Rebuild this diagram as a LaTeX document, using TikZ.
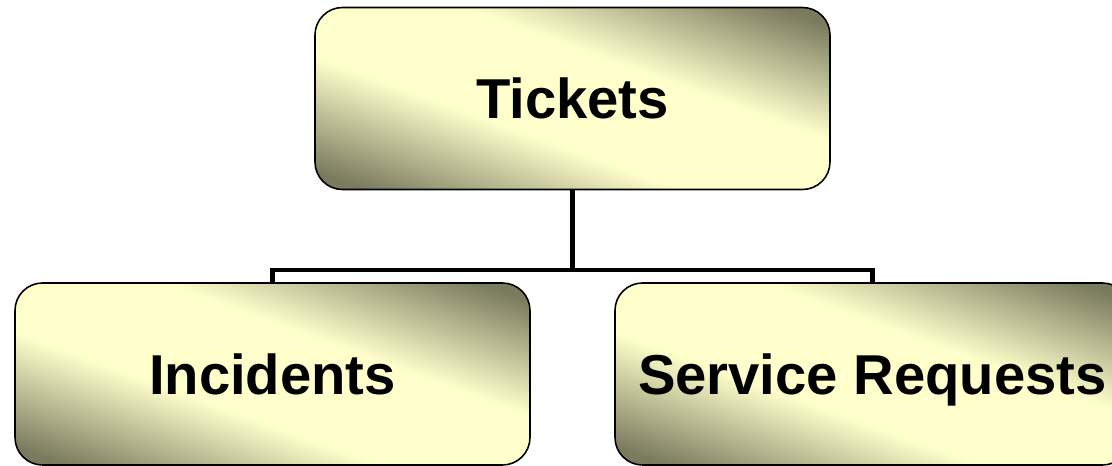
\documentclass[tikz,border=0pt]{standalone}
\usepackage{fontspec}
\setmainfont{Liberation Sans}
\usepackage{tikz}
\usetikzlibrary{shadings}

\definecolor{olivedark}{RGB}{122,122,94}
\definecolor{paleyellow}{RGB}{255,255,204}
\pgfdeclareverticalshading{boxshade}{100bp}{color(0bp)=(olivedark); color(21bp)=(olivedark); color(41bp)=(paleyellow); color(59bp)=(paleyellow); color(79bp)=(olivedark); color(100bp)=(olivedark)}

\begin{document}
\begin{tikzpicture}[
    box/.style={draw=black, line width=0.9pt, rounded corners=0.55cm, shading=boxshade, shading angle=-20,
        minimum width=10.3cm, minimum height=3.64cm, inner sep=0pt,
        text height=0.81cm, text depth=0cm,
        font=\fontsize{32}{38}\selectfont\bfseries},
    link/.style={line width=2.8pt, black}]

    % Page frame, the right box runs off the edge
    \useasboundingbox (0,0) rectangle (22.24,-9.32);
    \clip (0,0) rectangle (22.24,-9.32);

    % Boxes
    \node[box] (tickets) at (11.45,-1.97) {Tickets};
    \node[box] (incidents) at (5.45,-7.48) {Incidents};
    \node[box] (service) at (17.45,-7.48) {Service Requests};

    % Tree connector
    \coordinate (bar) at (11.45,-5.4);
    \draw[link] (tickets.south) -- (bar);
    \draw[link] (incidents.north) |- (bar) -| (service.north);
\end{tikzpicture}
\end{document}
